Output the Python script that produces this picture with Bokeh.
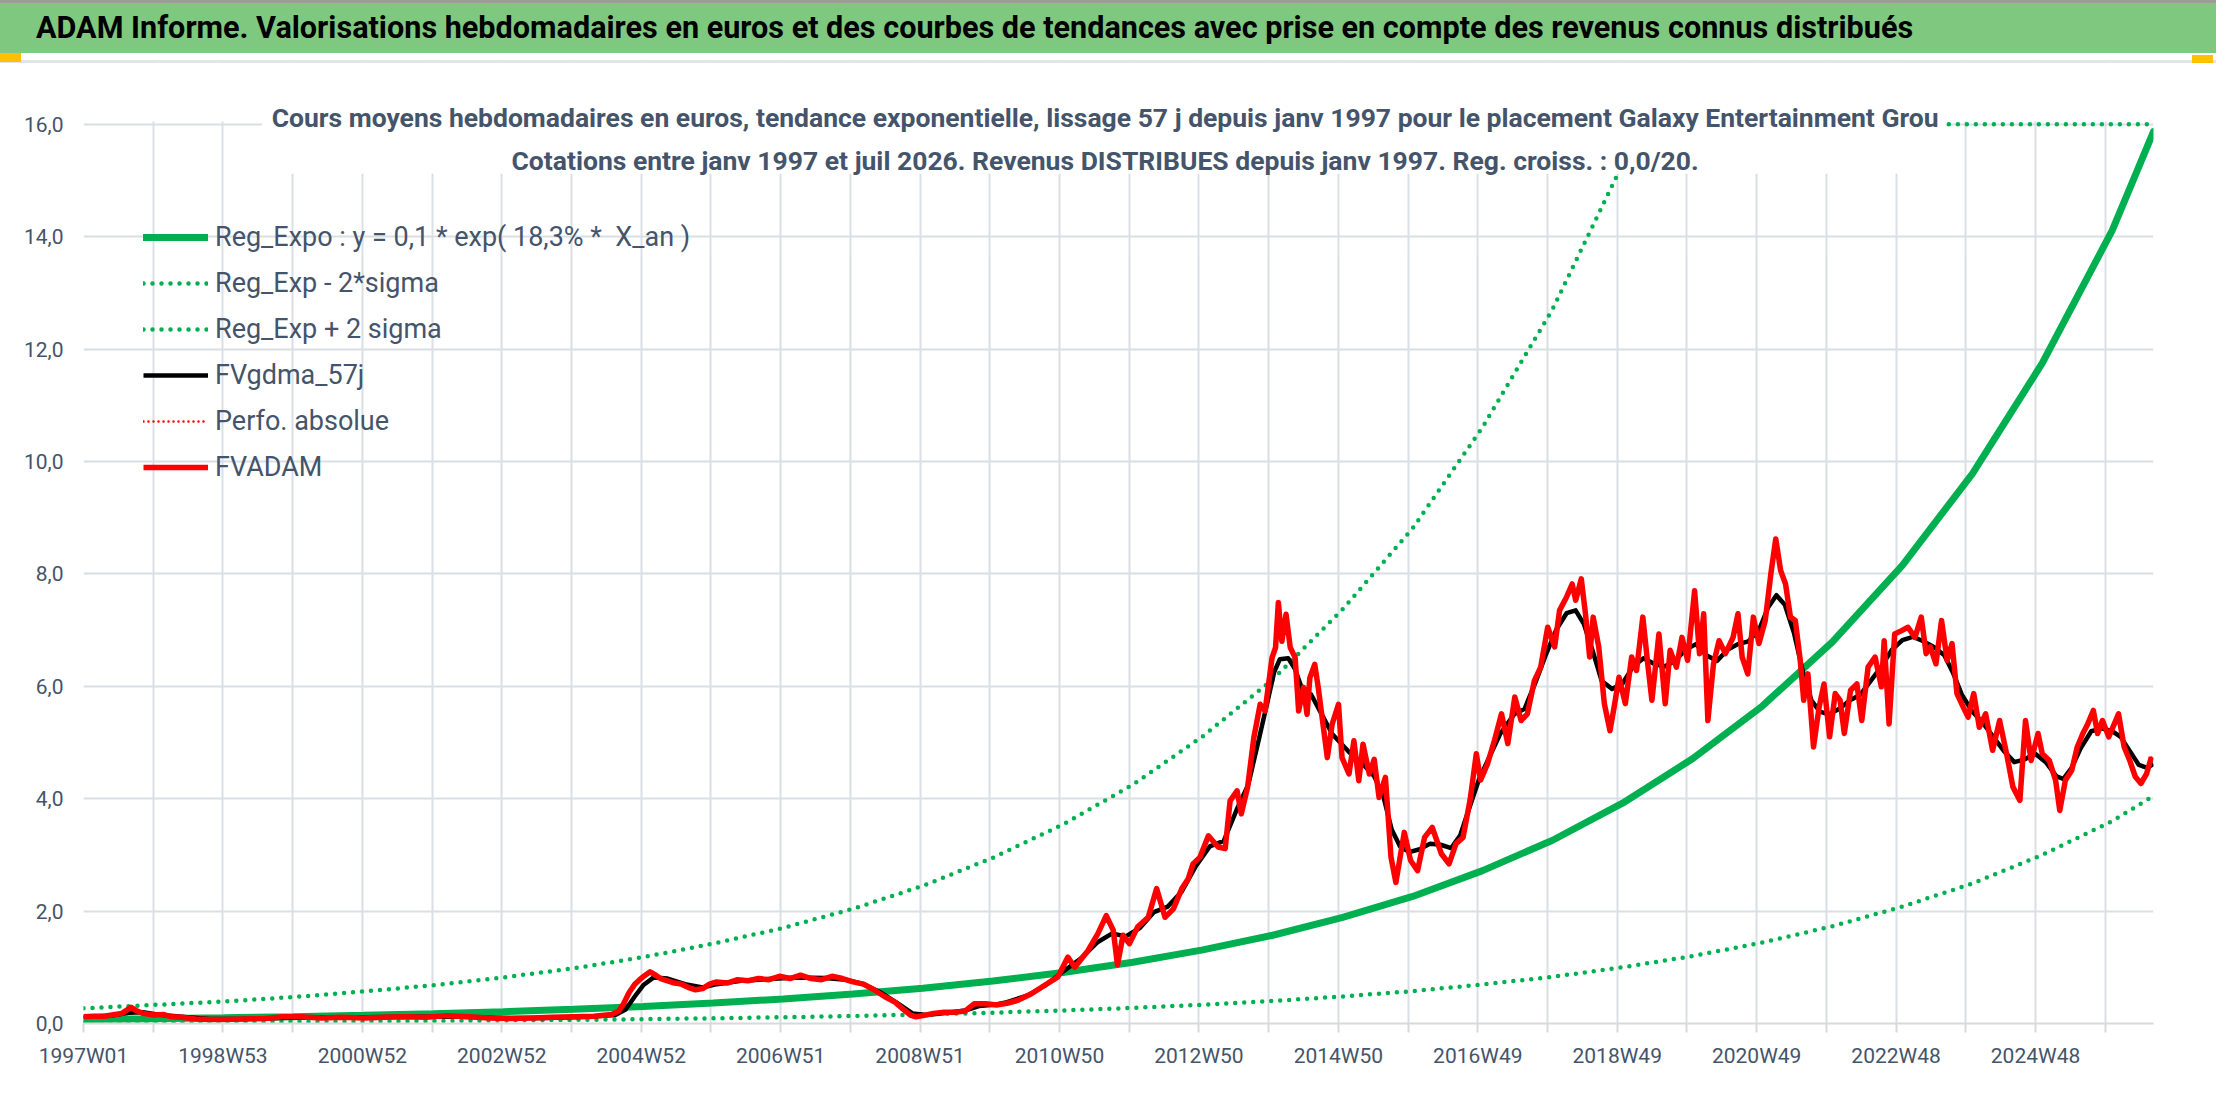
from bokeh.plotting import figure
from bokeh.models import (Range1d, FixedTicker, Legend, LegendItem, Label,
                          BoxAnnotation, Div, ColumnDataSource)
from bokeh.layouts import column
from bokeh.embed import file_html
from bokeh.resources import INLINE

# ---------------- data ----------------
TITLE = ("ADAM Informe. Valorisations hebdomadaires en euros et des courbes de "
         "tendances avec prise en compte des revenus connus distribués")
SUB1 = ("Cours moyens hebdomadaires en euros, tendance exponentielle, lissage 57 j "
        "depuis janv 1997 pour le placement Galaxy Entertainment Grou")
SUB2 = ("Cotations entre janv 1997 et juil 2026. Revenus DISTRIBUES depuis janv 1997. "
        "Reg. croiss. : 0,0/20.")

START_YEAR = 1997.0
WEEKS_PER_YEAR = 52.18
LAST_WEEK = 1544

TICK_LABELS = ["1997W01", "1998W53", "2000W52", "2002W52", "2004W52", "2006W51",
               "2008W51", "2010W50", "2012W50", "2014W50", "2016W49", "2018W49",
               "2020W49", "2022W48", "2024W48"]
Y_TICKS = [0, 2, 4, 6, 8, 10, 12, 14, 16]
Y_LABELS = ["0,0", "2,0", "4,0", "6,0", "8,0", "10,0", "12,0", "14,0", "16,0"]

# trend curves, read yearly (years since jan 1997)
TREND_X = [0, 1, 2, 3, 4, 5, 6, 7, 8, 9, 10, 11, 12, 13, 14, 15, 16, 17, 18, 19,
           20, 21, 22, 23, 24, 25, 26, 27, 28, 29, 29.59]
REG_EXPO = [0.070, 0.084, 0.101, 0.121, 0.146, 0.175, 0.210, 0.252, 0.303, 0.363,
            0.436, 0.524, 0.629, 0.755, 0.907, 1.09, 1.31, 1.57, 1.89, 2.26,
            2.72, 3.26, 3.92, 4.71, 5.65, 6.79, 8.15, 9.78, 11.75, 14.11, 15.87]
REG_MINUS = [0.018, 0.021, 0.026, 0.031, 0.037, 0.045, 0.054, 0.064, 0.077, 0.093,
             0.111, 0.134, 0.160, 0.193, 0.231, 0.278, 0.334, 0.400, 0.482, 0.576,
             0.694, 0.831, 1.00, 1.20, 1.44, 1.73, 2.08, 2.49, 3.00, 3.60, 4.05]
PLUS_X = [0, 1, 2, 3, 4, 5, 6, 7, 8, 9, 10, 11, 12, 13, 14, 15, 16, 17, 18, 19,
          20, 21, 22, 22.22, 23, 24, 25, 26, 27, 28, 29, 29.59]
REG_PLUS = [0.27, 0.33, 0.39, 0.47, 0.57, 0.68, 0.82, 0.98, 1.18, 1.42,
            1.70, 2.04, 2.45, 2.95, 3.54, 4.25, 5.11, 6.12, 7.37, 8.81,
            10.61, 12.71, 15.29, 16.0, 16.0, 16.0, 16.0, 16.0, 16.0, 16.0, 16.0, 16.0]

# FVADAM weekly valuation (decimal year, euros)
ADAM_T = [1997.00, 1997.15, 1997.30, 1997.45, 1997.55, 1997.62, 1997.68, 1997.75, 1997.85,
          1998.00, 1998.15, 1998.25, 1998.40, 1998.60, 1998.80, 1999.00, 1999.30, 1999.60,
          1999.85, 2000.10, 2000.40, 2000.70, 2001.00, 2001.30, 2001.60, 2001.90, 2002.20,
          2002.50, 2002.80, 2003.10, 2003.40, 2003.70, 2004.00, 2004.30, 2004.55, 2004.65,
          2004.72, 2004.80, 2004.88, 2004.95, 2005.02, 2005.10, 2005.18, 2005.25, 2005.35,
          2005.45, 2005.55, 2005.65, 2005.75, 2005.85, 2005.95, 2006.05, 2006.20, 2006.35,
          2006.50, 2006.65, 2006.80, 2006.95, 2007.10, 2007.25, 2007.40, 2007.55, 2007.70,
          2007.85, 2008.00, 2008.15, 2008.30, 2008.45, 2008.60, 2008.72, 2008.82, 2008.90,
          2009.00, 2009.15, 2009.30, 2009.45, 2009.60, 2009.73, 2009.90, 2010.05, 2010.20,
          2010.35, 2010.55, 2010.74, 2010.93, 2011.07, 2011.17, 2011.36, 2011.50, 2011.62,
          2011.72, 2011.78, 2011.86, 2011.95, 2012.07, 2012.22, 2012.34, 2012.46, 2012.58,
          2012.70, 2012.79, 2012.86, 2012.96, 2013.08, 2013.22, 2013.32, 2013.39, 2013.49,
          2013.55, 2013.64, 2013.73, 2013.82, 2013.89, 2013.99, 2014.04, 2014.08, 2014.13,
          2014.19, 2014.25, 2014.32, 2014.37, 2014.44, 2014.49, 2014.53, 2014.60, 2014.65,
          2014.78, 2014.85, 2014.94, 2014.99, 2015.09, 2015.16, 2015.23, 2015.29, 2015.38,
          2015.45, 2015.52, 2015.61, 2015.69, 2015.76, 2015.88, 2015.97, 2016.07, 2016.17,
          2016.28, 2016.41, 2016.52, 2016.62, 2016.72, 2016.82, 2016.91, 2016.97, 2017.07,
          2017.17, 2017.27, 2017.36, 2017.46, 2017.55, 2017.64, 2017.74, 2017.83, 2017.93,
          2018.03, 2018.10, 2018.20, 2018.28, 2018.33, 2018.41, 2018.47, 2018.53, 2018.58,
          2018.66, 2018.74, 2018.82, 2018.88, 2018.95, 2019.04, 2019.13, 2019.20, 2019.29,
          2019.36, 2019.42, 2019.52, 2019.61, 2019.68, 2019.77, 2019.85, 2019.93, 2020.03,
          2020.10, 2020.16, 2020.22, 2020.30, 2020.38, 2020.47, 2020.58, 2020.65, 2020.71,
          2020.79, 2020.87, 2020.95, 2021.04, 2021.12, 2021.19, 2021.26, 2021.33, 2021.40,
          2021.47, 2021.54, 2021.59, 2021.65, 2021.73, 2021.81, 2021.88, 2021.96, 2022.04,
          2022.11, 2022.17, 2022.26, 2022.35, 2022.42, 2022.51, 2022.61, 2022.70, 2022.74,
          2022.81, 2022.89, 2022.99, 2023.08, 2023.18, 2023.27, 2023.34, 2023.40, 2023.48,
          2023.56, 2023.64, 2023.71, 2023.78, 2023.87, 2023.94, 2024.02, 2024.10, 2024.19,
          2024.29, 2024.39, 2024.49, 2024.58, 2024.68, 2024.76, 2024.84, 2024.94, 2025.00,
          2025.10, 2025.19, 2025.25, 2025.33, 2025.42, 2025.50, 2025.58, 2025.65, 2025.73,
          2025.79, 2025.86, 2025.95, 2026.03, 2026.09, 2026.17, 2026.25, 2026.33, 2026.41,
          2026.49, 2026.56]
ADAM_V = [0.12, 0.13, 0.13, 0.16, 0.18, 0.24, 0.29, 0.23, 0.18,
          0.15, 0.16, 0.12, 0.11, 0.08, 0.07, 0.07, 0.08, 0.09,
          0.12, 0.12, 0.10, 0.11, 0.10, 0.11, 0.12, 0.11, 0.14,
          0.12, 0.10, 0.09, 0.10, 0.11, 0.12, 0.13, 0.16, 0.22,
          0.35, 0.55, 0.70, 0.78, 0.85, 0.92, 0.86, 0.80, 0.76,
          0.72, 0.70, 0.64, 0.60, 0.62, 0.70, 0.74, 0.72, 0.78,
          0.76, 0.80, 0.78, 0.84, 0.80, 0.86, 0.80, 0.78, 0.84,
          0.80, 0.74, 0.70, 0.60, 0.48, 0.38, 0.25, 0.15, 0.12,
          0.14, 0.18, 0.20, 0.20, 0.22, 0.35, 0.35, 0.33, 0.36,
          0.41, 0.53, 0.68, 0.83, 1.18, 1.00, 1.30, 1.60, 1.92,
          1.66, 1.04, 1.57, 1.42, 1.72, 1.89, 2.40, 1.89, 2.04,
          2.40, 2.57, 2.84, 2.96, 3.34, 3.14, 3.11, 3.96, 4.14,
          3.73, 4.20, 5.09, 5.68, 5.56, 6.51, 6.69, 7.49, 6.80,
          7.28, 6.69, 6.51, 5.56, 5.98, 5.50, 6.15, 6.39, 5.98,
          4.73, 5.33, 5.68, 4.73, 4.44, 5.03, 4.32, 4.97, 4.44,
          4.70, 4.02, 4.38, 2.96, 2.51, 3.40, 2.90, 2.72, 3.31,
          3.49, 3.02, 2.84, 3.20, 3.31, 3.97, 4.80, 4.33, 4.62,
          5.04, 5.51, 4.98, 5.81, 5.39, 5.51, 6.10, 6.34, 7.05,
          6.70, 7.35, 7.59, 7.82, 7.53, 7.91, 7.29, 6.52, 7.23,
          6.70, 5.69, 5.21, 5.63, 6.16, 5.69, 6.52, 6.28, 7.23,
          6.40, 5.75, 6.93, 5.69, 6.64, 6.34, 6.87, 6.46, 7.70,
          6.58, 7.29, 5.39, 6.40, 6.81, 6.58, 6.87, 7.29, 6.52,
          6.22, 7.23, 6.76, 7.17, 8.00, 8.62, 8.06, 7.82, 7.23,
          7.17, 6.46, 5.75, 6.22, 4.92, 5.63, 6.04, 5.10, 5.87,
          5.75, 5.16, 5.93, 6.04, 5.39, 6.34, 6.52, 5.99, 6.81,
          5.33, 6.93, 6.99, 7.05, 6.87, 7.23, 6.58, 6.70, 6.40,
          7.17, 6.46, 6.76, 5.87, 5.63, 5.45, 5.87, 5.27, 5.51,
          4.86, 5.39, 4.80, 4.21, 3.97, 5.39, 4.68, 5.16, 4.80,
          4.68, 4.33, 3.79, 4.33, 4.50, 4.92, 5.16, 5.33, 5.57,
          5.16, 5.39, 5.10, 5.33, 5.51, 4.92, 4.68, 4.39, 4.27,
          4.44, 4.74]

# FVgdma_57j smoothed valuation
GDMA_T = [1997.00, 1997.40, 1997.65, 1997.85, 1998.05, 1998.40, 1998.80, 1999.30, 1999.80,
          2000.30, 2001.00, 2001.80, 2002.40, 2003.00, 2003.60, 2004.20, 2004.60, 2004.75,
          2004.88, 2005.00, 2005.15, 2005.35, 2005.60, 2005.85, 2006.05, 2006.40, 2006.80,
          2007.20, 2007.60, 2007.90, 2008.15, 2008.40, 2008.65, 2008.85, 2009.05, 2009.35,
          2009.60, 2009.80, 2010.05, 2010.20, 2010.50, 2010.75, 2011.00, 2011.25, 2011.50,
          2011.70, 2011.90, 2012.10, 2012.30, 2012.50, 2012.70, 2012.90, 2013.10, 2013.30,
          2013.50, 2013.65, 2013.80, 2013.92, 2014.02, 2014.10, 2014.22, 2014.32, 2014.42,
          2014.55, 2014.70, 2014.85, 2015.00, 2015.15, 2015.30, 2015.45, 2015.58, 2015.70,
          2015.82, 2015.95, 2016.10, 2016.25, 2016.40, 2016.55, 2016.68, 2016.80, 2016.95,
          2017.10, 2017.25, 2017.45, 2017.60, 2017.75, 2017.90, 2018.05, 2018.20, 2018.33,
          2018.45, 2018.58, 2018.70, 2018.85, 2019.00, 2019.15, 2019.30, 2019.45, 2019.60,
          2019.75, 2019.90, 2020.05, 2020.20, 2020.35, 2020.50, 2020.65, 2020.80, 2020.95,
          2021.08, 2021.20, 2021.32, 2021.45, 2021.58, 2021.70, 2021.82, 2021.95, 2022.10,
          2022.25, 2022.40, 2022.55, 2022.70, 2022.85, 2023.00, 2023.15, 2023.30, 2023.45,
          2023.60, 2023.72, 2023.85, 2024.00, 2024.15, 2024.30, 2024.45, 2024.60, 2024.75,
          2024.90, 2025.05, 2025.20, 2025.30, 2025.42, 2025.55, 2025.70, 2025.85, 2026.00,
          2026.12, 2026.25, 2026.38, 2026.50, 2026.59]
GDMA_V = [0.12, 0.14, 0.19, 0.20, 0.16, 0.12, 0.08, 0.08, 0.10,
          0.11, 0.11, 0.12, 0.12, 0.10, 0.10, 0.12, 0.15, 0.25,
          0.48, 0.68, 0.82, 0.80, 0.70, 0.64, 0.70, 0.76, 0.79,
          0.82, 0.81, 0.78, 0.70, 0.55, 0.35, 0.18, 0.15, 0.19,
          0.23, 0.31, 0.34, 0.38, 0.50, 0.68, 0.92, 1.15, 1.45,
          1.60, 1.55, 1.70, 1.98, 2.08, 2.35, 2.80, 3.15, 3.25,
          3.85, 4.25, 5.05, 5.70, 6.25, 6.48, 6.50, 6.30, 5.95,
          5.85, 5.50, 5.15, 4.95, 4.75, 4.60, 4.40, 4.05, 3.45,
          3.15, 3.05, 3.10, 3.20, 3.18, 3.12, 3.35, 3.80, 4.35,
          4.75, 5.15, 5.50, 5.60, 6.05, 6.55, 7.00, 7.30, 7.35,
          7.10, 6.60, 6.10, 5.95, 6.05, 6.35, 6.50, 6.40, 6.35,
          6.45, 6.65, 6.75, 6.55, 6.45, 6.65, 6.75, 6.80, 7.00,
          7.40, 7.62, 7.45, 6.95, 6.25, 5.75, 5.55, 5.50, 5.60,
          5.75, 5.85, 6.10, 6.35, 6.65, 6.82, 6.88, 6.80, 6.70,
          6.55, 6.25, 5.85, 5.55, 5.35, 5.10, 4.85, 4.65, 4.70,
          4.80, 4.65, 4.40, 4.35, 4.55, 4.90, 5.20, 5.25, 5.20,
          5.10, 4.85, 4.60, 4.55, 4.62]


def years_to_week(years):
    return [min((y - START_YEAR) * WEEKS_PER_YEAR, LAST_WEEK) for y in years]


def span_to_week(xs):
    return [min(x * WEEKS_PER_YEAR, LAST_WEEK) for x in xs]


# ---------------- styles ----------------
FONT = "Roboto"
SLATE = "#44546A"
GREEN = "#00B050"
GRID = "#DADFE6"
ORANGE = "#FFC000"
W = 2216

header = Div(
    text=(f'<div style="width:{W}px;height:3px;background:#9C9C9C;"></div>'
          f'<div style="width:{W}px;height:50px;background:#7FC87F;box-sizing:border-box;'
          'padding:10px 0 0 36px;font-family:Roboto;font-weight:bold;font-size:30.6px;'
          'line-height:30px;color:#000;white-space:nowrap;overflow:hidden;">'
          + TITLE + '</div>'
          f'<div style="position:relative;width:{W}px;height:10px;background:#FFFFFF;">'
          f'<div style="position:absolute;left:0;top:7px;width:{W}px;height:3px;'
          'background:#E2E4E8;"></div>'
          f'<div style="position:absolute;left:0;top:0;width:21px;height:9px;'
          f'background:{ORANGE};"></div>'
          f'<div style="position:absolute;left:2192px;top:2px;width:21px;height:8px;'
          f'background:{ORANGE};"></div>'
          '</div>'),
    width=W, height=63, margin=0)

p = figure(width=W, height=1027, output_backend="svg", toolbar_location=None,
           x_range=Range1d(0, LAST_WEEK), y_range=Range1d(0, 17.08),
           min_border_left=83, min_border_right=63, min_border_top=0,
           min_border_bottom=67, background_fill_color="white",
           border_fill_color="white", outline_line_color=None)

# grid & axes
x_ticks = list(range(0, LAST_WEEK + 1, 52))
p.xaxis.ticker = FixedTicker(ticks=x_ticks)
p.xgrid.ticker = FixedTicker(ticks=x_ticks)
overrides = {t: "" for t in x_ticks}
for k, lab in enumerate(TICK_LABELS):
    overrides[104 * k] = lab
p.xaxis.major_label_overrides = overrides
p.yaxis.ticker = FixedTicker(ticks=Y_TICKS)
p.ygrid.ticker = FixedTicker(ticks=Y_TICKS)
p.yaxis.major_label_overrides = {t: l for t, l in zip(Y_TICKS, Y_LABELS)}

for g in (p.xgrid, p.ygrid):
    g.grid_line_color = GRID
    g.grid_line_width = 2

p.xaxis.axis_line_color = "#D9D9D9"
p.xaxis.axis_line_width = 2
p.xaxis.major_tick_line_color = "#D9D9D9"
p.xaxis.major_tick_line_width = 2
p.xaxis.major_tick_out = 9
p.xaxis.major_tick_in = 0
p.xaxis.minor_tick_line_color = None
p.xaxis.major_label_standoff = 11
p.xaxis.major_label_text_font = FONT
p.xaxis.major_label_text_font_size = "21px"
p.xaxis.major_label_text_color = SLATE

p.yaxis.axis_line_color = None
p.yaxis.major_tick_line_color = None
p.yaxis.minor_tick_line_color = None
p.yaxis.major_tick_out = 0
p.yaxis.major_tick_in = 0
p.yaxis.major_label_standoff = 20
p.yaxis.major_label_text_font = FONT
p.yaxis.major_label_text_font_size = "21px"
p.yaxis.major_label_text_color = SLATE

# series
src_reg = ColumnDataSource(dict(x=span_to_week(TREND_X), y=REG_EXPO))
src_minus = ColumnDataSource(dict(x=span_to_week(TREND_X), y=REG_MINUS))
src_plus = ColumnDataSource(dict(x=span_to_week(PLUS_X), y=REG_PLUS))
src_gdma = ColumnDataSource(dict(x=years_to_week(GDMA_T), y=GDMA_V))
src_adam = ColumnDataSource(dict(x=years_to_week(ADAM_T), y=ADAM_V))

r_reg = p.line("x", "y", source=src_reg, line_color=GREEN, line_width=7, line_cap="round")
r_minus = p.line("x", "y", source=src_minus, line_color=GREEN, line_width=4.5,
                 line_dash="0 9", line_cap="round")
r_plus = p.line("x", "y", source=src_plus, line_color=GREEN, line_width=4.5,
                line_dash="0 9", line_cap="round")
r_gdma = p.line("x", "y", source=src_gdma, line_color="black", line_width=4.5,
                line_join="round")
r_perf = p.line("x", "y", source=src_adam, line_color="#FF0000", line_width=2.5,
                line_dash="0 5", line_cap="round")
r_adam = p.line("x", "y", source=src_adam, line_color="#FF0000", line_width=5.5,
                line_join="round")

# white areas: above the 16 line, and behind the chart title
p.add_layout(BoxAnnotation(bottom=16.05, fill_color="white", fill_alpha=1.0,
                           line_color=None))
p.add_layout(BoxAnnotation(left=133, right=1389, bottom=15.12, fill_color="white",
                           fill_alpha=1.0, line_color=None))

p.add_layout(Label(x=762, y=16.12, text=SUB1, text_align="center",
                   text_baseline="alphabetic", text_font=FONT, text_font_style="bold",
                   text_font_size="26.5px", text_color=SLATE))
p.add_layout(Label(x=762, y=15.35, text=SUB2, text_align="center",
                   text_baseline="alphabetic", text_font=FONT, text_font_style="bold",
                   text_font_size="26.5px", text_color=SLATE))

legend = Legend(items=[
    LegendItem(label="Reg_Expo : y = 0,1 * exp( 18,3% *  X_an )", renderers=[r_reg]),
    LegendItem(label="Reg_Exp - 2*sigma", renderers=[r_minus]),
    LegendItem(label="Reg_Exp + 2 sigma", renderers=[r_plus]),
    LegendItem(label="FVgdma_57j", renderers=[r_gdma]),
    LegendItem(label="Perfo. absolue", renderers=[r_perf]),
    LegendItem(label="FVADAM", renderers=[r_adam]),
], location=(60, 536))
legend.padding = 0
legend.margin = 0
legend.spacing = 6
legend.glyph_width = 65
legend.glyph_height = 40
legend.label_height = 40
legend.label_standoff = 7
legend.label_text_font = FONT
legend.label_text_font_size = "27px"
legend.label_text_color = SLATE
legend.background_fill_alpha = 0
legend.border_line_color = None
p.add_layout(legend)

layout = column(header, p, spacing=0)

open("out.html", "w").write(file_html(layout, INLINE))
